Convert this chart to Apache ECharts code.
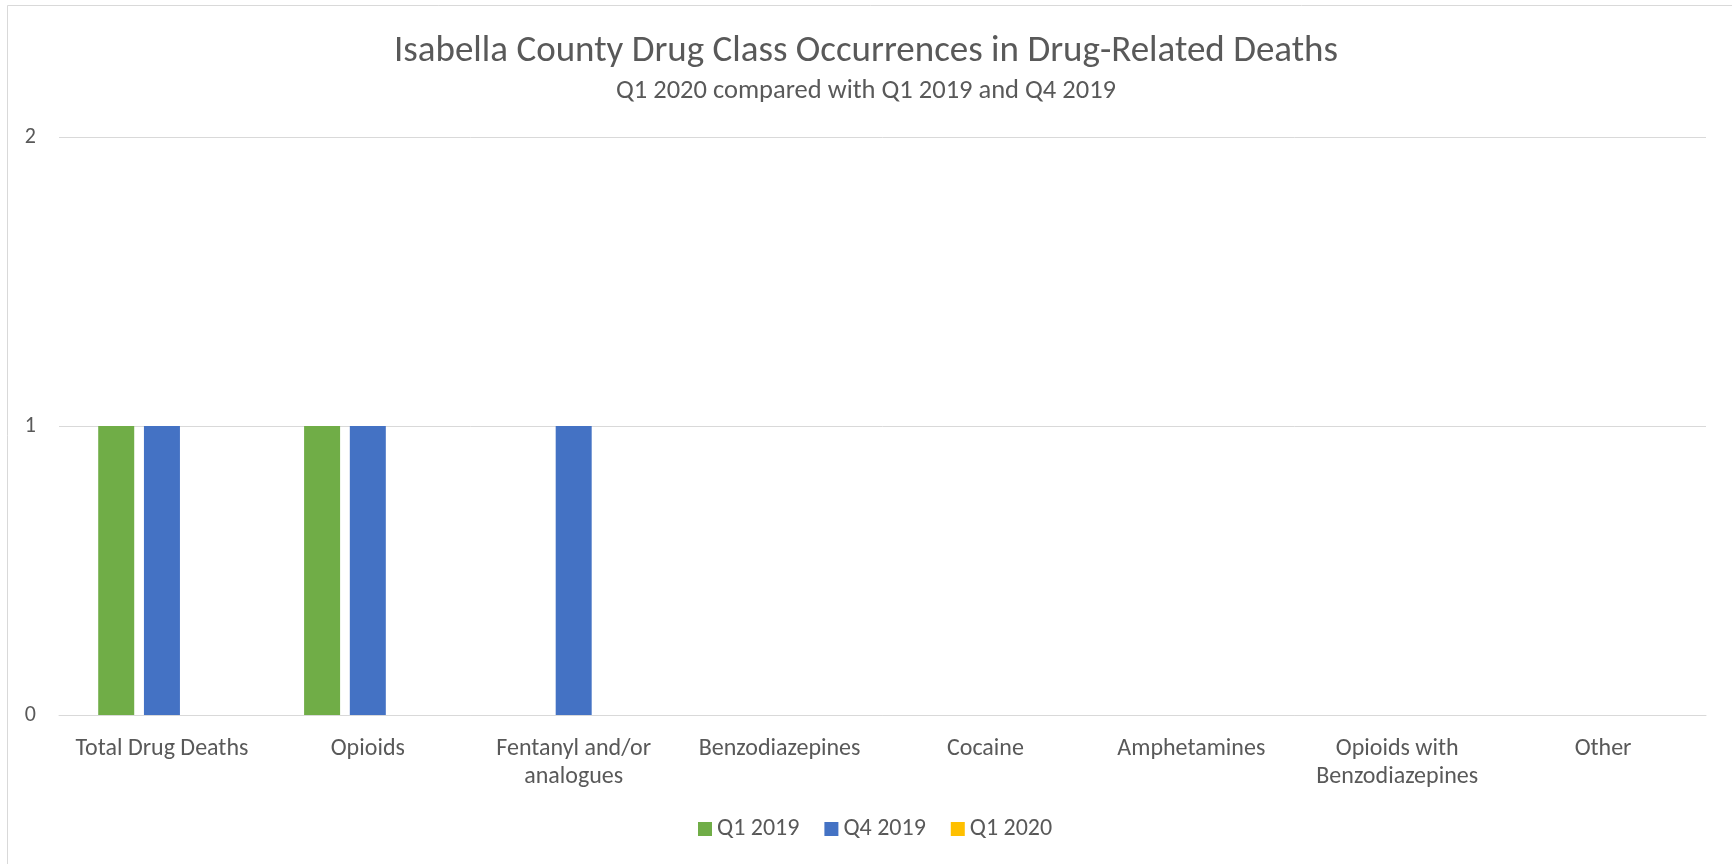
<!DOCTYPE html>
<html>
<head>
<meta charset="utf-8">
<script src="https://cdn.jsdelivr.net/npm/echarts@6/dist/echarts.min.js"></script>
<style>
  html, body { margin: 0; padding: 0; background: #ffffff; }
  #chart { width: 1732px; height: 864px; }
</style>
</head>
<body>
<div id="chart"></div>
<script>
// Drug classes on the category axis (line breaks as wrapped in the labels)
const categories = [
  'Total Drug Deaths',
  'Opioids',
  'Fentanyl and/or\nanalogues',
  'Benzodiazepines',
  'Cocaine',
  'Amphetamines',
  'Opioids with\nBenzodiazepines',
  'Other'
];

// Occurrence counts per quarter
const q1_2019 = [1, 1, 0, 0, 0, 0, 0, 0];
const q4_2019 = [1, 1, 1, 0, 0, 0, 0, 0];
const q1_2020 = [0, 0, 0, 0, 0, 0, 0, 0];

const seriesNames = ['Q1 2019', 'Q4 2019', 'Q1 2020'];
const seriesColors = ['#70AD47', '#4472C4', '#FFC000'];
const yTicks = [0, 1, 2];

const FONT = 'Carlito, Lato, sans-serif';
const TEXT = '#595959';

const chart = echarts.init(document.getElementById('chart'));

const values = [q1_2019, q4_2019, q1_2020];

chart.setOption({
  backgroundColor: '#ffffff',
  animation: false,
  title: [
    {
      text: 'Isabella County Drug Class Occurrences in Drug-Related Deaths',
      left: 'center',
      top: 33,
      padding: 0,
      textStyle: { fontFamily: FONT, fontSize: 37, fontWeight: 'normal', color: TEXT }
    },
    {
      text: 'Q1 2020 compared with Q1 2019 and Q4 2019',
      left: 'center',
      top: 78,
      padding: 0,
      textStyle: { fontFamily: FONT, fontSize: 26.5, fontWeight: 'normal', color: TEXT }
    }
  ],
  legend: {
    data: seriesNames,
    bottom: 18,
    left: 693,
    icon: 'rect',
    itemWidth: 14,
    itemHeight: 14,
    itemGap: 25,
    textStyle: { fontFamily: FONT, fontSize: 24, color: TEXT }
  },
  grid: {
    left: 59,
    right: 26,
    top: 137,
    bottom: 149,
    containLabel: false
  },
  xAxis: {
    type: 'category',
    data: categories,
    axisLine: { show: true, lineStyle: { color: '#D9D9D9', width: 1 } },
    axisTick: { show: false },
    axisLabel: {
      fontFamily: FONT,
      fontSize: 24,
      color: TEXT,
      margin: 20,
      lineHeight: 28,
      interval: 0
    }
  },
  yAxis: {
    type: 'value',
    min: yTicks[0],
    max: yTicks[yTicks.length - 1],
    interval: 1,
    axisLine: { show: false },
    axisTick: { show: false },
    splitLine: { lineStyle: { color: '#D9D9D9', width: 1 } },
    axisLabel: {
      fontFamily: FONT,
      fontSize: 22,
      color: TEXT,
      margin: 23
    }
  },
  graphic: [
    {
      type: 'rect',
      shape: { x: 7.5, y: 5.5, width: 1800, height: 1000 },
      style: { fill: 'none', stroke: '#D9D9D9', lineWidth: 1 },
      silent: true
    }
  ],
  series: seriesNames.map((name, i) => ({
    name,
    type: 'bar',
    data: values[i],
    barWidth: 36,
    barGap: '27%',
    itemStyle: { color: seriesColors[i] }
  }))
});
</script>
</body>
</html>
